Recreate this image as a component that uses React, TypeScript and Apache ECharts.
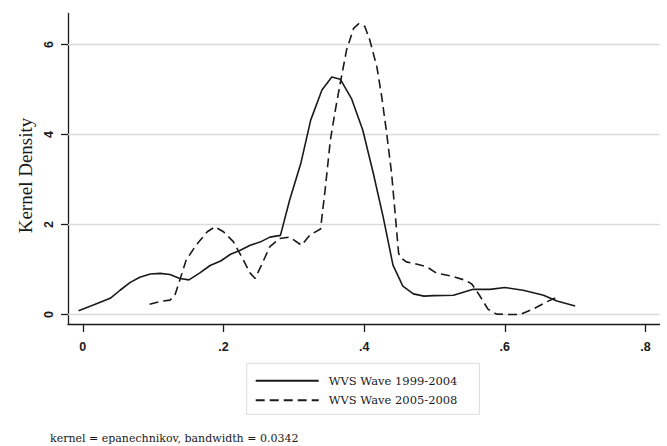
import React, { useEffect, useRef } from "react";
import * as echarts from "echarts";

const xTicks = [0, 0.2, 0.4, 0.6, 0.8];
const yTicks = [0, 2, 4, 6];

const seriesNames = ["WVS Wave 1999-2004", "WVS Wave 2005-2008"];

const wave1X = [
  -0.006, 0.015, 0.039, 0.053, 0.067, 0.081, 0.096, 0.11, 0.124, 0.138, 0.151,
  0.167, 0.181, 0.196, 0.21, 0.224, 0.238, 0.252, 0.266, 0.281, 0.294, 0.31,
  0.324, 0.34, 0.354, 0.366, 0.382, 0.398, 0.413, 0.427, 0.441, 0.455, 0.47,
  0.485, 0.499, 0.527, 0.555, 0.579, 0.6, 0.626, 0.655, 0.674, 0.7,
];
const wave1Y = [
  0.085, 0.21, 0.36, 0.54, 0.71, 0.83, 0.9, 0.915, 0.89, 0.8, 0.77, 0.93, 1.09,
  1.19, 1.34, 1.43, 1.54, 1.61, 1.72, 1.76, 2.54, 3.36, 4.32, 4.99, 5.28, 5.23,
  4.8, 4.1, 3.14, 2.17, 1.1, 0.63, 0.46, 0.41, 0.42, 0.43, 0.56, 0.56, 0.6,
  0.54, 0.43, 0.3, 0.19,
];

const wave2X = [
  0.095, 0.11, 0.124, 0.131, 0.138, 0.147, 0.161, 0.177, 0.188, 0.2, 0.214,
  0.226, 0.238, 0.245, 0.254, 0.266, 0.28, 0.294, 0.311, 0.323, 0.338, 0.345,
  0.352, 0.359, 0.366, 0.375, 0.385, 0.392, 0.401, 0.408, 0.418, 0.425, 0.432,
  0.439, 0.444, 0.449, 0.453, 0.46, 0.47, 0.489, 0.503, 0.526, 0.544, 0.553,
  0.56, 0.565, 0.576, 0.588, 0.607, 0.621, 0.64, 0.659, 0.676,
];
const wave2Y = [
  0.23, 0.29, 0.32, 0.43, 0.77, 1.21, 1.54, 1.84, 1.95, 1.84, 1.62, 1.28, 0.92,
  0.8, 1.1, 1.51, 1.69, 1.72, 1.54, 1.77, 1.9, 2.84, 3.88, 4.54, 5.14, 5.88,
  6.36, 6.46, 6.4, 6.1, 5.51, 4.84, 4.03, 3.14, 2.25, 1.36, 1.25, 1.17, 1.14,
  1.06, 0.92, 0.85, 0.76, 0.68, 0.52, 0.4, 0.12, 0.01, 0.0, 0.0, 0.12, 0.28,
  0.4,
];

const footnote = "kernel = epanechnikov, bandwidth = 0.0342";
const yTitle = "Kernel Density";

const SERIF = "'Liberation Serif', serif";
const WIDE_SERIF = "'DejaVu Serif', serif";
const SANS = "'Liberation Sans', Arial, sans-serif";
const INK = "#1a1a1a";

function zip(xs: number[], ys: number[]) {
  return xs.map((x, i) => [x, ys[i]]);
}

function fmtTick(v: number) {
  if (v === 0) return "0";
  return String(v).replace(/^0/, "");
}

export default function App() {
  const ref = useRef<HTMLDivElement>(null);
  useEffect(() => {
    if (!ref.current) return;
    const chart = echarts.init(ref.current, undefined, { renderer: "svg" });
    chart.setOption({
      animation: false,
      backgroundColor: "#ffffff",
      grid: { left: 68, right: 7.4, top: 13.5, bottom: 122, containLabel: false },
      xAxis: {
        type: "value",
        min: -0.021,
        max: 0.82,
        axisLine: { show: true, onZero: false, lineStyle: { color: INK, width: 1.3 } },
        axisTick: {
          show: true,
          customValues: xTicks,
          length: 8,
          lineStyle: { color: INK, width: 1.3 },
        },
        axisLabel: {
          customValues: xTicks,
          formatter: (v: number) => fmtTick(v),
          margin: 16,
          color: INK,
          fontFamily: SANS,
          fontWeight: "bold",
          fontSize: 12.5,
        },
        splitLine: { show: false },
      },
      yAxis: {
        type: "value",
        min: -0.21,
        max: 6.69,
        axisLine: { show: true, onZero: false, lineStyle: { color: INK, width: 1.3 } },
        axisTick: {
          show: true,
          customValues: yTicks,
          length: 7,
          lineStyle: { color: INK, width: 1.3 },
        },
        axisLabel: {
          customValues: yTicks,
          rotate: 90,
          margin: 13,
          color: INK,
          fontFamily: SANS,
          fontWeight: "bold",
          fontSize: 12.5,
          formatter: (v: number) => fmtTick(v),
        },
        splitLine: { show: false },
      },
      legend: {
        show: true,
        orient: "vertical",
        left: 246.7,
        top: 363.3,
        padding: [11.4, 22, 8, 8],
        itemGap: 7.6,
        itemWidth: 63,
        itemHeight: 14,
        borderColor: "#dddddd",
        borderWidth: 1,
        itemStyle: { color: "transparent", borderWidth: 0, opacity: 0 },
        textStyle: { color: INK, fontFamily: WIDE_SERIF, fontSize: 11.5, padding: [0, 0, 0, 5] },
        data: seriesNames,
      },
      graphic: [
        {
          type: "text",
          x: 25,
          y: 175.5,
          rotation: Math.PI / 2,
          style: {
            text: yTitle,
            fill: INK,
            font: `19px ${SERIF}`,
            textAlign: "center",
            textVerticalAlign: "middle",
          },
        },
        {
          type: "text",
          left: 50,
          top: 433,
          style: {
            text: footnote,
            fill: INK,
            font: `11px ${WIDE_SERIF}`,
          },
        },
      ],
      series: [
        {
          name: seriesNames[0],
          type: "line",
          data: zip(wave1X, wave1Y),
          showSymbol: false,
          symbol: "none",
          lineStyle: { color: INK, width: 1.6, type: "solid" },
          itemStyle: { color: INK },
          z: 3,
          markLine: {
            silent: true,
            symbol: "none",
            label: { show: false },
            lineStyle: { color: "#dadada", width: 1.3, type: "solid" },
            data: yTicks.map((v) => ({ yAxis: v })),
            z: 1,
          },
        },
        {
          name: seriesNames[1],
          type: "line",
          data: zip(wave2X, wave2Y),
          showSymbol: false,
          symbol: "none",
          lineStyle: { color: INK, width: 1.6, type: [9, 5] },
          itemStyle: { color: INK },
          z: 3,
        },
      ],
    });
    return () => chart.dispose();
  }, []);
  return (
    <div
      ref={ref}
      style={{ position: "fixed", left: 0, top: 0, width: 667, height: 446, background: "#fff" }}
    />
  );
}
